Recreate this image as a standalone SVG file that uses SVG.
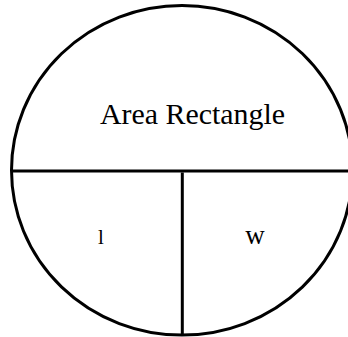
<svg xmlns="http://www.w3.org/2000/svg" width="348" height="337" viewBox="0 0 348 337">
  <style>
    .shape { fill: none; stroke: #000; stroke-width: 3; }
    .lbl { font-family: "Liberation Serif", "Times New Roman", serif; fill: #000; text-anchor: middle; }
  </style>
  <rect width="348" height="337" fill="#fff"/>
  <g id="outline">
    <ellipse class="shape" cx="182" cy="170.3" rx="170.5" ry="164.8"/>
  </g>
  <g id="connectors">
    <line class="shape" x1="11.5" y1="171" x2="350" y2="171"/>
    <line class="shape" x1="182.3" y1="172.5" x2="182.3" y2="335"/>
  </g>
  <g id="node-area">
    <text class="lbl" x="192.5" y="124.3" style="font-size:30px" textLength="185" lengthAdjust="spacingAndGlyphs">Area Rectangle</text>
  </g>
  <g id="node-l">
    <text class="lbl" x="101" y="244" style="font-size:21px">l</text>
  </g>
  <g id="node-w">
    <text class="lbl" x="255" y="244" style="font-size:27px">w</text>
  </g>
</svg>
